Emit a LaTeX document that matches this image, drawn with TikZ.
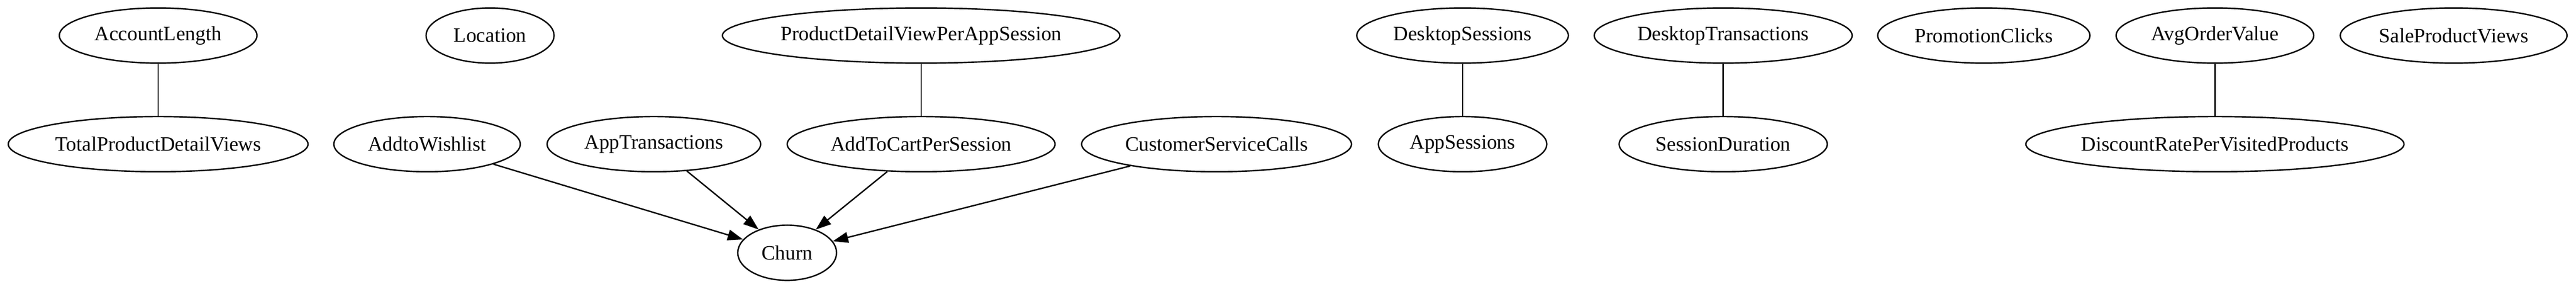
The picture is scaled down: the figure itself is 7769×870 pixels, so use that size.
\documentclass[tikz,border=0pt]{standalone}
\usepackage{fontspec}
\setmainfont{Liberation Serif}
\usetikzlibrary{shapes.geometric,arrows.meta}
\begin{document}
\begin{tikzpicture}[x=0.21612pt,y=-0.21612pt,
  var/.style={ellipse,draw,line width=0.9pt,inner sep=0pt,minimum height=35.9pt,
    font=\fontsize{13.3}{15}\selectfont},
  link/.style={line width=0.9pt},
  arc/.style={line width=0.9pt,-{Triangle[length=10pt,width=7pt]}}]
\useasboundingbox (0,0) rectangle (7769,870);
% row 1
\node[var,minimum width=128.8pt] (acc) at (477,107) {AccountLength};
\node[var,minimum width=83.4pt] (loc) at (1478,107) {Location};
\node[var,minimum width=258.0pt] (pdv) at (2778,107) {ProductDetailViewPerAppSession};
\node[var,minimum width=137.9pt] (ds) at (4411,107) {DesktopSessions};
\node[var,minimum width=168.1pt] (dt) at (5197,107) {DesktopTransactions};
\node[var,minimum width=138.3pt] (pc) at (5983,107) {PromotionClicks};
\node[var,minimum width=128.8pt] (aov) at (6680,107) {AvgOrderValue};
\node[var,minimum width=147.8pt] (spv) at (7400,107) {SaleProductViews};
% row 2
\node[var,minimum width=195.4pt] (tpdv) at (477,434) {TotalProductDetailViews};
\node[var,minimum width=121.5pt] (atw) at (1288,434) {AddtoWishlist};
\node[var,minimum width=139.2pt] (at) at (1972,434) {AppTransactions};
\node[var,minimum width=174.6pt] (atc) at (2778,434) {AddToCartPerSession};
\node[var,minimum width=175.9pt] (csc) at (3669,434) {CustomerServiceCalls};
\node[var,minimum width=109.8pt] (as) at (4411,434) {AppSessions};
\node[var,minimum width=135.7pt] (sd) at (5197,434) {SessionDuration};
\node[var,minimum width=246.4pt] (drpv) at (6680,434) {DiscountRatePerVisitedProducts};
% row 3
\node[var,minimum width=64.4pt] (churn) at (2374,761) {Churn};
% undirected links
\draw[link] (acc) -- (tpdv);
\draw[link] (pdv) -- (atc);
\draw[link] (ds) -- (as);
\draw[link] (dt) -- (sd);
\draw[link] (aov) -- (drpv);
% directed edges
\draw[arc] (atw) -- (churn);
\draw[arc] (at) -- (churn);
\draw[arc] (atc) -- (churn);
\draw[arc] (csc) -- (churn);
\end{tikzpicture}
\end{document}
